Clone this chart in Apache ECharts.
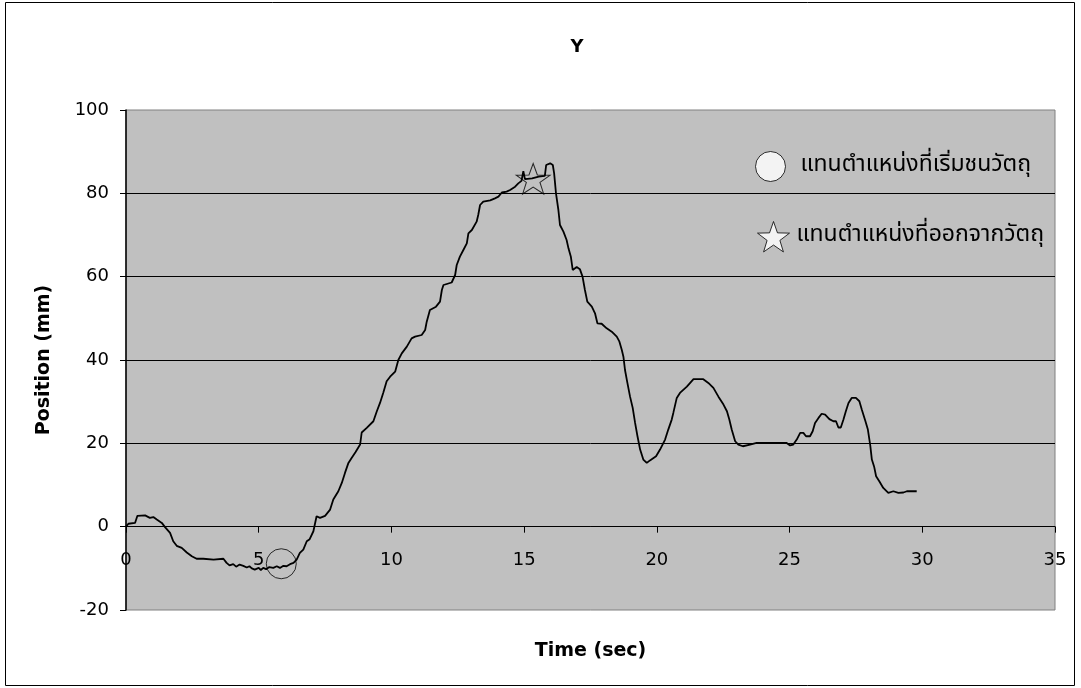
<!DOCTYPE html>
<html>
<head>
<meta charset="utf-8">
<script src="https://cdn.jsdelivr.net/npm/echarts@6/dist/echarts.min.js"></script>
<style>
  html, body { margin: 0; padding: 0; background: #ffffff; }
  #chart { width: 1081px; height: 688px; }
</style>
</head>
<body>
<div id="chart"></div>
<script>
// Y position of the probe over time
const timeSec = [
  0.00, 0.09, 0.34, 0.43, 0.72, 0.90, 1.03, 1.16, 1.35, 1.47, 1.66, 1.78, 1.91, 2.10, 2.29, 2.48,
  2.66, 2.91, 3.30, 3.67, 3.79, 3.90, 4.04, 4.15, 4.28, 4.42, 4.55, 4.65, 4.74, 4.85, 4.92, 5.00,
  5.08, 5.17, 5.28, 5.40, 5.55, 5.68, 5.80, 5.93, 6.05, 6.18, 6.31, 6.43, 6.55, 6.68, 6.81, 6.92,
  7.06, 7.18, 7.31, 7.50, 7.69, 7.81, 8.00, 8.13, 8.25, 8.38, 8.50, 8.65, 8.82, 8.88, 9.07, 9.32,
  9.45, 9.57, 9.69, 9.82, 9.95, 10.14, 10.26, 10.39, 10.58, 10.76, 10.89, 11.14, 11.27, 11.33, 11.45, 11.68,
  11.83, 11.90, 11.96, 12.27, 12.40, 12.46, 12.58, 12.71, 12.84, 12.90, 13.03, 13.21, 13.27, 13.34, 13.46, 13.72,
  13.90, 14.03, 14.16, 14.34, 14.47, 14.66, 14.78, 14.90, 14.97, 15.03, 15.30, 15.55, 15.78, 15.83, 15.98, 16.08,
  16.13, 16.20, 16.29, 16.35, 16.48, 16.60, 16.67, 16.76, 16.83, 16.98, 17.10, 17.20, 17.29, 17.38, 17.55, 17.67,
  17.76, 17.92, 18.11, 18.30, 18.49, 18.59, 18.68, 18.74, 18.80, 18.89, 18.99, 19.09, 19.18, 19.27, 19.37, 19.49,
  19.62, 19.74, 19.97, 20.12, 20.31, 20.43, 20.56, 20.62, 20.75, 20.87, 21.13, 21.38, 21.75, 21.94, 22.13, 22.32,
  22.51, 22.64, 22.73, 22.82, 22.95, 23.07, 23.24, 23.51, 23.76, 24.89, 25.02, 25.14, 25.27, 25.40, 25.52, 25.62,
  25.77, 25.87, 25.96, 26.09, 26.21, 26.34, 26.50, 26.65, 26.75, 26.84, 26.93, 27.03, 27.12, 27.22, 27.34, 27.50,
  27.63, 27.72, 27.85, 27.95, 28.04, 28.10, 28.19, 28.26, 28.38, 28.53, 28.72, 28.91, 29.10, 29.29, 29.42, 29.79
];
const positionMm = [
  0.0, 0.7, 0.9, 2.6, 2.7, 2.1, 2.3, 1.7, 0.9, -0.1, -1.5, -3.5, -4.6, -5.1, -6.2, -7.1,
  -7.7, -7.7, -7.9, -7.7, -8.7, -9.3, -9.0, -9.6, -9.1, -9.4, -9.8, -9.5, -10.0, -10.3, -10.6, -9.9,
  -10.4, -9.9, -10.2, -9.7, -9.9, -9.5, -9.9, -9.4, -9.5, -9.0, -8.7, -7.9, -6.3, -5.5, -3.5, -3.0,
  -1.1, 2.5, 2.1, 2.6, 4.1, 6.5, 8.5, 10.5, 12.9, 15.3, 16.5, 17.9, 19.7, 22.6, 23.7, 25.3,
  27.7, 29.7, 32.1, 34.9, 36.0, 37.2, 40.0, 41.6, 43.2, 45.2, 45.6, 46.0, 47.2, 49.2, 52.0, 52.8,
  54.0, 56.8, 58.0, 58.6, 60.4, 62.8, 64.8, 66.4, 68.0, 70.4, 71.2, 73.2, 74.8, 77.2, 78.0, 78.3,
  78.8, 79.2, 80.2, 80.4, 80.8, 81.6, 82.4, 83.0, 85.3, 83.4, 83.6, 84.0, 84.2, 86.8, 87.2, 86.8,
  84.8, 80.0, 76.0, 72.4, 70.8, 68.8, 66.8, 64.8, 61.6, 62.3, 61.8, 60.0, 56.8, 54.0, 52.8, 51.2,
  48.8, 48.7, 47.6, 46.8, 45.6, 44.4, 42.4, 40.8, 37.6, 34.5, 31.2, 28.5, 24.9, 21.7, 18.5, 16.1,
  15.3, 15.9, 16.9, 18.5, 20.9, 23.3, 25.7, 27.3, 30.9, 32.1, 33.6, 35.4, 35.4, 34.5, 33.3, 31.2,
  29.3, 27.7, 25.7, 23.3, 20.5, 19.7, 19.3, 19.7, 20.1, 20.1, 19.5, 19.7, 20.9, 22.5, 22.5, 21.7,
  21.7, 22.9, 24.9, 26.1, 27.1, 26.9, 25.8, 25.3, 25.3, 23.8, 23.8, 25.7, 27.7, 29.7, 30.9, 30.9,
  30.1, 28.1, 25.5, 23.3, 19.5, 16.1, 14.3, 12.1, 10.9, 9.3, 8.1, 8.5, 8.1, 8.2, 8.5, 8.5
];

// Points where contact with the object starts and ends
const contactStartPoint = [5.85, -8.9];
const contactEndPoint = [15.34, 83.5];

const xTickValues = [0, 5, 10, 15, 20, 25, 30, 35];
const yTickValues = [-20, 0, 20, 40, 60, 80, 100];

const chartTitle = 'Y';
const xAxisTitle = 'Time (sec)';
const yAxisTitle = 'Position (mm)';
const markerLabels = ['แทนตำแหน่งที่เริ่มชนวัตถุ', 'แทนตำแหน่งที่ออกจากวัตถุ'];

const latinFont = '"DejaVu Sans", "Liberation Sans", Arial, sans-serif';
const thaiFont = '"Noto Sans Thai", "Noto Serif Thai", Norasi, Loma, Garuda, "Tlwg Typo", "DejaVu Sans", serif';
const starPath = 'path://M100,0 L123.5,67.6 L195.1,69.1 L138,112.4 L158.8,180.9 L100,140 L41.2,180.9 L62,112.4 L4.9,69.1 L76.5,67.6 Z';

const seriesData = timeSec.map((t, i) => [t, positionMm[i]]);

const chart = echarts.init(document.getElementById('chart'), null, { renderer: 'canvas' });

const markerStyle = { color: 'transparent', borderColor: '#000', borderWidth: 1 };
const legendIconStyle = { color: '#ffffff', borderColor: '#000', borderWidth: 1 };

chart.setOption({
  backgroundColor: '#ffffff',
  animation: false,
  title: {
    text: chartTitle,
    left: 572,
    top: 33,
    textAlign: 'center',
    textStyle: { fontFamily: latinFont, fontSize: 18, fontWeight: 'bold', color: '#000' }
  },
  grid: {
    left: 126, top: 110, width: 929, height: 500,
    outerBoundsMode: 'none',
    containLabel: false,
    show: true, backgroundColor: '#c0c0c0', borderColor: '#808080', borderWidth: 1
  },
  legend: [
    {
      data: [{ name: markerLabels[0], icon: 'circle', itemStyle: legendIconStyle }],
      left: 750, top: 146, itemWidth: 30, itemHeight: 30,
      selectedMode: false,
      textStyle: { fontFamily: thaiFont, fontSize: 23, color: '#000', padding: [0, 0, 0, 10] }
    },
    {
      data: [{ name: markerLabels[1], icon: starPath, itemStyle: legendIconStyle }],
      left: 752, top: 216, itemWidth: 32, itemHeight: 32,
      selectedMode: false,
      textStyle: { fontFamily: thaiFont, fontSize: 23, color: '#000', padding: [0, 0, 0, 2] }
    }
  ],
  xAxis: {
    type: 'value',
    min: xTickValues[0],
    max: xTickValues[xTickValues.length - 1],
    interval: xTickValues[1] - xTickValues[0],
    name: xAxisTitle,
    nameLocation: 'middle',
    nameGap: 32,
    nameTextStyle: { fontFamily: latinFont, fontSize: 19, fontWeight: 'bold', color: '#000' },
    axisLine: { show: true, onZero: true, lineStyle: { color: '#000', width: 1 } },
    axisTick: { show: true, length: 6, lineStyle: { color: '#000' } },
    axisLabel: { fontFamily: latinFont, fontSize: 18, color: '#000', margin: -59, showMinLabel: true, showMaxLabel: true },
    splitLine: { show: false }
  },
  yAxis: {
    type: 'value',
    min: yTickValues[0],
    max: yTickValues[yTickValues.length - 1],
    interval: yTickValues[1] - yTickValues[0],
    name: yAxisTitle,
    nameLocation: 'middle',
    nameRotate: 90,
    nameGap: 72,
    nameTextStyle: { fontFamily: latinFont, fontSize: 19, fontWeight: 'bold', color: '#000' },
    axisLine: { show: true, onZero: false, lineStyle: { color: '#000', width: 1.5 } },
    axisTick: { show: true, length: 6, lineStyle: { color: '#000' } },
    axisLabel: { fontFamily: latinFont, fontSize: 18, color: '#000', margin: 17 },
    splitLine: { show: true, showMinLine: false, showMaxLine: false, lineStyle: { color: '#000', width: 1 } }
  },
  series: [
    {
      name: 'Y',
      type: 'line',
      data: seriesData,
      showSymbol: false,
      symbol: 'none',
      lineStyle: { color: '#000', width: 1.8 },
      z: 3
    },
    {
      name: markerLabels[0],
      type: 'scatter',
      data: [contactStartPoint],
      symbol: 'circle',
      symbolSize: 30,
      itemStyle: markerStyle,
      z: 4
    },
    {
      name: markerLabels[1],
      type: 'scatter',
      data: [contactEndPoint],
      symbol: starPath,
      symbolKeepAspect: true,
      symbolSize: [34, 32],
      itemStyle: markerStyle,
      z: 4
    }
  ],
  graphic: [
    {
      type: 'rect',
      shape: { x: 5.5, y: 2.5, width: 1069, height: 683 },
      style: { fill: 'none', stroke: '#000', lineWidth: 1 },
      silent: true,
      z: 0
    }
  ]
});
</script>
</body>
</html>
